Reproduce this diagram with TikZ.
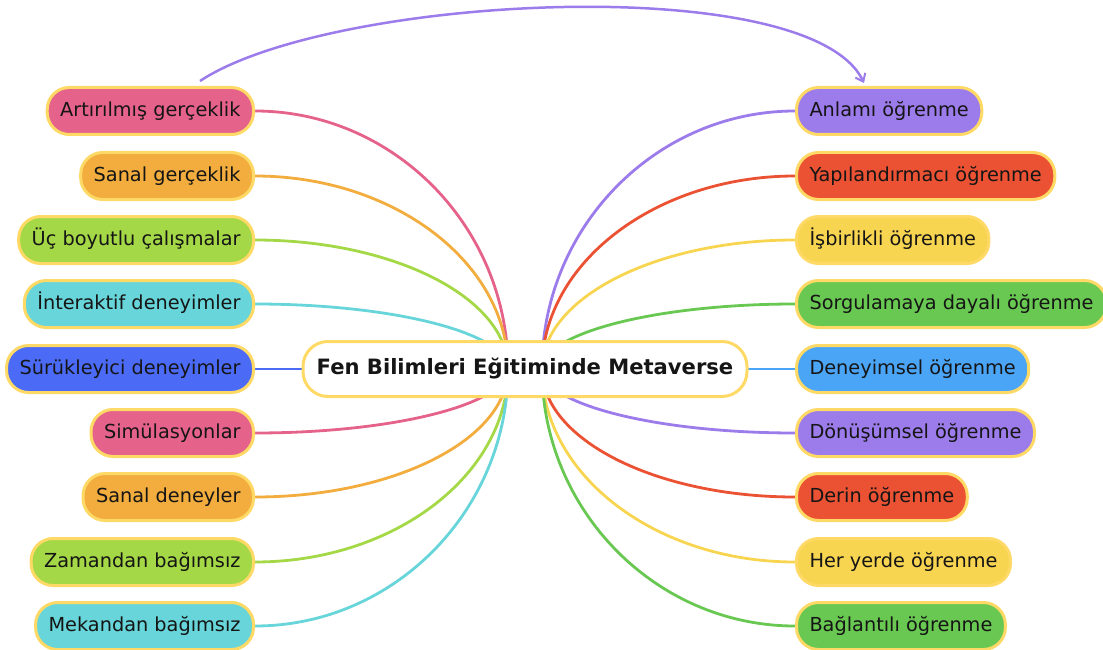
\documentclass[tikz,border=0pt]{standalone}
\usepackage{fontspec}
\setmainfont{DejaVu Sans}
\usetikzlibrary{backgrounds,arrows.meta}

\definecolor{cBorder}{HTML}{FFD966}
\definecolor{cText}{HTML}{151515}
\definecolor{cPink}{HTML}{E5628A}
\definecolor{cOrange}{HTML}{F2AD3E}
\definecolor{cLime}{HTML}{A4D846}
\definecolor{cCyan}{HTML}{67D5D9}
\definecolor{cBlue}{HTML}{4B6BF6}
\definecolor{cPurple}{HTML}{9C7BEB}
\definecolor{cRed}{HTML}{EB5233}
\definecolor{cYellow}{HTML}{F8D551}
\definecolor{cGreen}{HTML}{69C852}
\definecolor{cSky}{HTML}{4BA5F6}

\begin{document}
\begin{tikzpicture}[x=1pt,y=-1pt,
  leaf/.style={draw=cBorder, line width=3pt, rounded corners=22pt,
    inner xsep=13pt, minimum height=47pt, text height=14.5pt, text depth=4pt,
    font=\fontsize{19.3}{23}\selectfont, text=cText},
  root/.style={draw=cBorder, line width=3pt, fill=white, rounded corners=25pt,
    minimum width=444pt, minimum height=55pt,
    font=\bfseries\fontsize{21.1}{25}\selectfont, text=cText},
  conn/.style={line width=2.8pt},
  jump/.style={line width=2.5pt, draw=cPurple,
    -{Straight Barb[length=7pt,width=11pt,line width=2pt]}}]

\useasboundingbox (0,0) rectangle (1103,650);

% central topic
\node[root] (c) at (525,369) {Fen Bilimleri Eğitiminde Metaverse};
\coordinate (hubL) at (508,369);
\coordinate (hubR) at (542,369);

% left branches
\node[leaf, fill=cPink,   anchor=east] (l1) at (255,111) {Artırılmış gerçeklik};
\node[leaf, fill=cOrange, anchor=east] (l2) at (255,176) {Sanal gerçeklik};
\node[leaf, fill=cLime,   anchor=east] (l3) at (255,240) {Üç boyutlu çalışmalar};
\node[leaf, fill=cCyan,   anchor=east] (l4) at (255,304) {İnteraktif deneyimler};
\node[leaf, fill=cBlue,   anchor=east] (l5) at (255,369) {Sürükleyici deneyimler};
\node[leaf, fill=cPink,   anchor=east] (l6) at (255,433) {Simülasyonlar};
\node[leaf, fill=cOrange, anchor=east] (l7) at (255,497) {Sanal deneyler};
\node[leaf, fill=cLime,   anchor=east] (l8) at (255,562) {Zamandan bağımsız};
\node[leaf, fill=cCyan,   anchor=east] (l9) at (255,626) {Mekandan bağımsız};

% right branches
\node[leaf, fill=cPurple, anchor=west] (r1) at (795,111) {Anlamı öğrenme};
\node[leaf, fill=cRed,    anchor=west] (r2) at (795,176) {Yapılandırmacı öğrenme};
\node[leaf, fill=cYellow, anchor=west] (r3) at (795,240) {İşbirlikli öğrenme};
\node[leaf, fill=cGreen,  anchor=west] (r4) at (795,304) {Sorgulamaya dayalı öğrenme};
\node[leaf, fill=cSky,    anchor=west] (r5) at (795,369) {Deneyimsel öğrenme};
\node[leaf, fill=cPurple, anchor=west] (r6) at (795,433) {Dönüşümsel öğrenme};
\node[leaf, fill=cRed,    anchor=west] (r7) at (795,497) {Derin öğrenme};
\node[leaf, fill=cYellow, anchor=west] (r8) at (795,562) {Her yerde öğrenme};
\node[leaf, fill=cGreen,  anchor=west] (r9) at (795,626) {Bağlantılı öğrenme};

% branch connectors, kept behind the boxes
\begin{scope}[on background layer]
  \foreach \n/\c/\y in {l1/cPink/111, l2/cOrange/176, l3/cLime/240,
      l4/cCyan/304, l5/cBlue/369, l6/cPink/433, l7/cOrange/497,
      l8/cLime/562, l9/cCyan/626}
    \draw[conn, \c] (\n.east) .. controls +(139,0) and +(0,{-0.55*(369-\y)}) .. (hubL);
  \foreach \n/\c/\y in {r1/cPurple/111, r2/cRed/176, r3/cYellow/240,
      r4/cGreen/304, r5/cSky/369, r6/cPurple/433, r7/cRed/497,
      r8/cYellow/562, r9/cGreen/626}
    \draw[conn, \c] (hubR) .. controls +(0,{-0.55*(369-\y)}) and +(-139,0) .. (\n.west);
\end{scope}

% cross link over the top
\coordinate (jumpS) at (200,81);
\coordinate (jumpE) at (864,83);
\draw[jump] (jumpS) .. controls (330,-5) and (810,-30) .. (jumpE);

\end{tikzpicture}
\end{document}
